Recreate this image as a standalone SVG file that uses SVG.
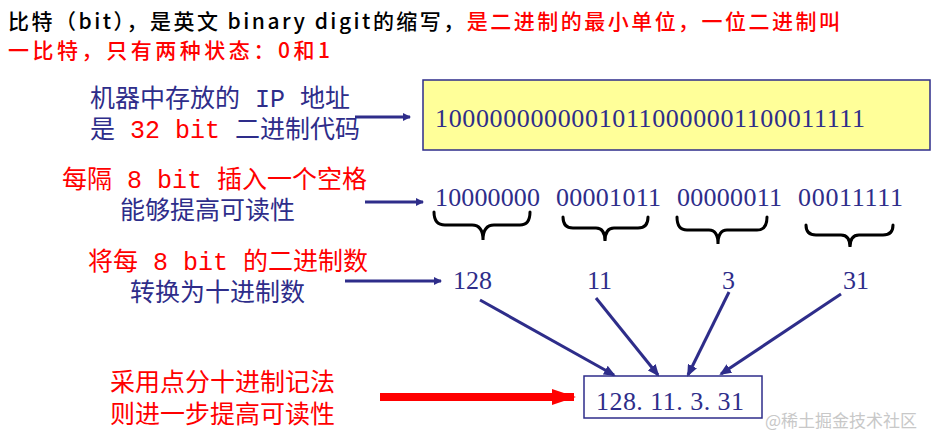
<svg xmlns="http://www.w3.org/2000/svg" width="935" height="446" viewBox="0 0 935 446">
<style>
.cn{font-family:"Noto Sans CJK SC","Noto Sans",sans-serif;font-size:21px;font-weight:500}
.lb{font-family:"Liberation Mono","Noto Sans CJK SC",monospace;font-size:25px}
.num{font-family:"Liberation Serif",serif;font-size:26px;fill:#2e2d8a}
.nv{fill:#2e2d8a}.rd{fill:#ff0000}
.ln{stroke:#2e2d8a;stroke-width:3;fill:none}
.br{stroke:#000;stroke-width:3;fill:none;stroke-linecap:round}
</style>
<defs>
<marker id="ah" markerWidth="8" markerHeight="8" refX="7" refY="4" orient="auto" markerUnits="userSpaceOnUse" viewBox="0 0 8 8"><path d="M0,0 L8,4 L0,8 z" fill="#2e2d8a"/></marker>
<marker id="ah2" markerWidth="12" markerHeight="10" refX="10" refY="5" orient="auto" markerUnits="userSpaceOnUse" viewBox="0 0 12 10"><path d="M0,0 L12,5 L0,10 z" fill="#2e2d8a"/></marker>
<marker id="rh" markerWidth="24" markerHeight="16" refX="22" refY="8" orient="auto" markerUnits="userSpaceOnUse" viewBox="0 0 24 16"><path d="M0,0 L24,8 L0,16 z" fill="#ff0000"/></marker>
</defs>
<rect width="935" height="446" fill="#fff"/>
<g id="intro">
<text class="cn" x="8" y="29" textLength="832"><tspan fill="#000">比特（bit），是英文 binary digit的缩写，</tspan><tspan fill="#ff0000">是二进制的最小单位，一位二进制叫</tspan></text>
<text class="cn rd" x="8" y="58" textLength="322">一比特，只有两种状态：0和1</text>
</g>
<g id="label1"><text class="lb nv" x="90" y="107">机器中存放的 IP 地址</text><text class="lb" x="90" y="138"><tspan class="nv">是 </tspan><tspan class="rd">32 bit</tspan><tspan class="nv"> 二进制代码</tspan></text></g>
<g id="box32"><rect x="423" y="80" width="507" height="70" fill="#ffff99" stroke="#2e2d8a" stroke-width="1.5"/><text class="num" x="435" y="127" textLength="430" font-size="27">10000000000010110000001100011111</text></g>
<g id="label2"><text class="lb rd" x="62" y="188">每隔 8 bit 插入一个空格</text><text class="lb nv" x="120" y="219">能够提高可读性</text></g>
<g id="groups"><text class="num" x="435" y="206" textLength="105">10000000</text><text class="num" x="556" y="206" textLength="105">00001011</text><text class="num" x="677" y="206" textLength="105">00000011</text><text class="num" x="798" y="206" textLength="105">00011111</text></g>
<g id="braces">
<path class="br" d="M434,212 Q434,225 445,225 L472,225 Q483,225 483,240 Q483,225 494,225 L520,225 Q530,225 530,212"/>
<path class="br" d="M563,217 Q563,228 573,228 L596,228 Q605,228 605,241 Q605,228 614,228 L638,228 Q648,228 648,217"/>
<path class="br" d="M677,217 Q677,230 687,230 L709,230 Q718,230 718,244 Q718,230 727,230 L757,230 Q767,230 767,217"/>
<path class="br" d="M806,225 Q806,235 816,235 L841,235 Q850,235 850,247 Q850,235 859,235 L883,235 Q893,235 893,225"/>
</g>
<g id="label3"><text class="lb rd" x="88" y="270">将每 8 bit 的二进制数</text><text class="lb nv" x="130" y="301">转换为十进制数</text></g>
<g id="decimals"><text class="num" x="453" y="289">128</text><text class="num" x="587" y="289">11</text><text class="num" x="722" y="289">3</text><text class="num" x="843" y="289">31</text></g>
<g id="result"><rect x="584" y="376" width="178" height="42" fill="#fff" stroke="#2e2d8a" stroke-width="1.5"/><text class="num" x="596" y="410" textLength="148">128. 11. 3. 31</text></g>
<g id="label4"><text class="lb rd" x="110" y="391" font-size="26">采用点分十进制记法</text><text class="lb rd" x="110" y="423" font-size="26">则进一步提高可读性</text></g>
<g id="connectors">
<line class="ln" x1="355" y1="117" x2="410" y2="117" marker-end="url(#ah)"/>
<line class="ln" x1="365" y1="202" x2="423" y2="202" marker-end="url(#ah)"/>
<line class="ln" x1="345" y1="281" x2="441" y2="281" marker-end="url(#ah)"/>
<line class="ln" x1="480" y1="300" x2="614" y2="375" marker-end="url(#ah2)"/>
<line class="ln" x1="596" y1="298" x2="658" y2="375" marker-end="url(#ah2)"/>
<line class="ln" x1="729" y1="292" x2="688" y2="375" marker-end="url(#ah2)"/>
<line class="ln" x1="841" y1="294" x2="721" y2="374" marker-end="url(#ah2)"/>
<line x1="380" y1="397" x2="574" y2="397" stroke="#ff0000" stroke-width="8" marker-end="url(#rh)"/>
</g>
<g id="watermark" font-family="'Noto Sans CJK SC',sans-serif" fill="#c8c8c8"><text x="765" y="427" font-size="17">@稀土掘金技术社区</text></g>
</svg>
